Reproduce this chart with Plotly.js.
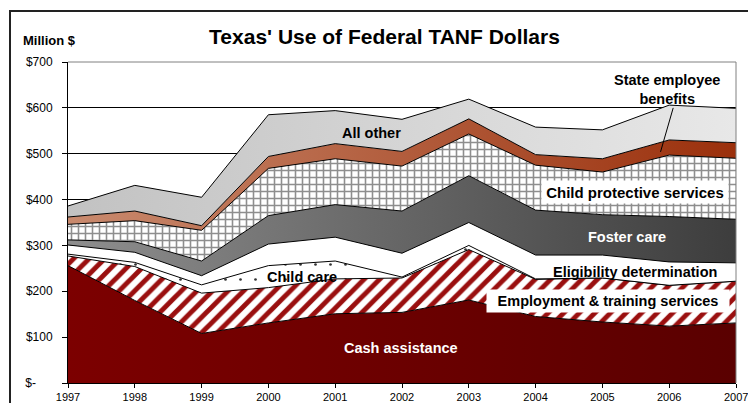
<!DOCTYPE html>
<html>
<head>
<meta charset="utf-8">
<script src="https://cdn.plot.ly/plotly-3.0.1.min.js"></script>
<style>
html,body{margin:0;padding:0;background:#fff;overflow:hidden;}
#chart{position:absolute;left:0;top:0;width:748px;height:403px;}
#frame{position:absolute;left:9px;top:10px;width:900px;height:600px;border-left:2px solid #222;border-top:2px solid #222;pointer-events:none;}
</style>
</head>
<body>
<div id="chart"></div>
<div id="frame"></div>
<script>
// Data (million $)
const years = [1997, 1998, 1999, 2000, 2001, 2002, 2003, 2004, 2005, 2006, 2007];
const cashAssistance = [256, 180, 108, 131, 151, 154, 181, 145, 133, 124, 131];
const employmentTraining = [21, 74, 88, 77, 76, 75, 110, 81, 96, 89, 91];
const childCare = [4, 9, 18, 48, 39, 2, 9, 1, 0, 0, 0];
const eligibility = [20, 22, 20, 47, 52, 52, 50, 52, 50, 51, 40];
const fosterCare = [11, 23, 32, 62, 71, 92, 102, 98, 88, 99, 95];
const childProtective = [34, 46, 67, 103, 100, 98, 91, 98, 93, 134, 133];
const stateEmployee = [16, 21, 10, 26, 33, 32, 33, 23, 29, 33, 34];
const allOther = [24, 56, 62, 91, 72, 70, 43, 60, 63, 76, 75];
const yTickVals = [0, 100, 200, 300, 400, 500, 600, 700];
const yTickText = ['$-\u00a0\u00a0\u00a0\u00a0\u00a0', '$100', '$200', '$300', '$400', '$500', '$600', '$700'];

const FONT = 'Liberation Sans, Arial, sans-serif';
const line = {color: '#000', width: 1};
const lastYear = years[years.length - 1];

function tr(name, y, extra) {
  return Object.assign({
    type: 'scatter', mode: 'lines', x: years, y: y, name: name,
    stackgroup: 'one', line: line, hoverinfo: 'skip'
  }, extra);
}

const traces = [
  tr('Cash assistance', cashAssistance, {
    fillcolor: '#6e0000',
    fillgradient: {type: 'horizontal', colorscale: [[0, '#7c0000'], [1, '#5a0000']]}
  }),
  tr('Employment & training services', employmentTraining, {
    fillcolor: '#ffffff',
    fillpattern: {shape: '/', fgcolor: '#9a0f0f', bgcolor: '#ffffff', size: 11, solidity: 0.45}
  }),
  tr('Child care', childCare, {
    fillcolor: '#ffffff',
    fillpattern: {shape: '.', fgcolor: '#333333', bgcolor: '#ffffff', size: 15, solidity: 0.025}
  }),
  tr('Eligibility determination', eligibility, {fillcolor: '#ffffff'}),
  tr('Foster care', fosterCare, {
    fillcolor: '#666666',
    fillgradient: {type: 'horizontal', colorscale: [[0, '#8e8e8e'], [1, '#3d3d3d']]}
  }),
  tr('Child protective services', childProtective, {
    fillcolor: '#ffffff',
    fillpattern: {shape: '+', fgcolor: '#8e8e8e', bgcolor: '#ffffff', size: 7, solidity: 0.4}
  }),
  tr('State employee benefits', stateEmployee, {
    fillcolor: '#b5603f',
    fillgradient: {type: 'horizontal', colorscale: [[0, '#c98a6e'], [1, '#9b300c']]}
  }),
  tr('All other', allOther, {
    fillcolor: '#d4d4d4',
    fillgradient: {type: 'horizontal', colorscale: [[0, '#c2c2c2'], [1, '#e8e8e8']]}
  })
];

function lab(text, x, y, color, extra) {
  return Object.assign({
    text: '<b>' + text + '</b>', x: x, y: y, xref: 'x', yref: 'y',
    showarrow: false, xanchor: 'center', yanchor: 'middle',
    font: {family: FONT, size: 14.5, color: color}
  }, extra);
}

const layout = {
  width: 748, height: 403,
  margin: {l: 68, r: 12, t: 62, b: 20},
  paper_bgcolor: '#ffffff', plot_bgcolor: '#ffffff',
  showlegend: false, hovermode: false,
  font: {family: FONT, color: '#000'},
  title: {
    text: "<b>Texas' Use of Federal TANF Dollars</b>",
    font: {family: FONT, size: 21, color: '#000'},
    x: 384.5 / 748, xanchor: 'center', xref: 'container',
    y: 1 - 37 / 403, yanchor: 'middle', yref: 'container'
  },
  xaxis: {
    range: [1997, 2007], tickvals: years,
    ticktext: years.map(y => (y === lastYear ? '' : String(y))),
    showgrid: false, zeroline: false,
    showline: true, linecolor: '#000', linewidth: 1,
    ticks: 'outside', ticklen: 4, tickcolor: '#000',
    tickfont: {family: FONT, size: 11, color: '#000'}
  },
  yaxis: {
    range: [0, 700], tickvals: yTickVals, ticktext: yTickText,
    showgrid: true, gridcolor: '#000', gridwidth: 1, zeroline: false,
    showline: true, linecolor: '#000', linewidth: 1,
    ticks: 'outside', ticklen: 5, tickcolor: '#000',
    ticklabelstandoff: 7,
    tickfont: {family: FONT, size: 12, color: '#000'}
  },
  shapes: [
    {type: 'line', xref: 'paper', yref: 'paper', x0: 0, x1: 1, y0: 1, y1: 1, line: {color: '#808080', width: 1}},
    {type: 'line', xref: 'paper', yref: 'paper', x0: 1, x1: 1, y0: 0, y1: 1, line: {color: '#808080', width: 1}},
    {type: 'line', xref: 'x', yref: 'y', x0: 2006.06, y0: 600, x1: 2005.87, y1: 504, line: {color: '#000', width: 1}}
  ],
  annotations: [
    {text: '<b>Million $</b>', xref: 'paper', yref: 'paper', x: (49 - 68) / 668, y: (383 - 40) / 321,
     showarrow: false, xanchor: 'center', yanchor: 'middle', font: {family: FONT, size: 13, color: '#000'}},
    {text: String(lastYear), xref: 'x', yref: 'paper', x: lastYear, y: -(397 - 383) / 321,
     showarrow: false, xanchor: 'center', yanchor: 'middle', font: {family: FONT, size: 11, color: '#000'}},
    lab('Cash assistance', 2001.99, 77, '#ffffff'),
    lab('Employment &amp; training services', 2005.08, 179, '#000',
        {bgcolor: '#ffffff', width: 240, height: 20, borderpad: 1}),
    lab('Eligibility determination', 2005.49, 242.5, '#000'),
    lab('Foster care', 2005.37, 318, '#ffffff'),
    lab('Child protective services', 2005.49, 417, '#000',
        {bgcolor: '#ffffff', width: 184, height: 20, borderpad: 1, font: {family: FONT, size: 15, color: '#000'}}),
    lab('Child care', 2000.5, 232, '#000'),
    lab('All other', 2001.55, 545, '#000'),
    lab('State employee<br>benefits', 2005.96, 639, '#000')
  ]
};

Plotly.newPlot('chart', traces, layout, {staticPlot: true, displayModeBar: false});
</script>
</body>
</html>
